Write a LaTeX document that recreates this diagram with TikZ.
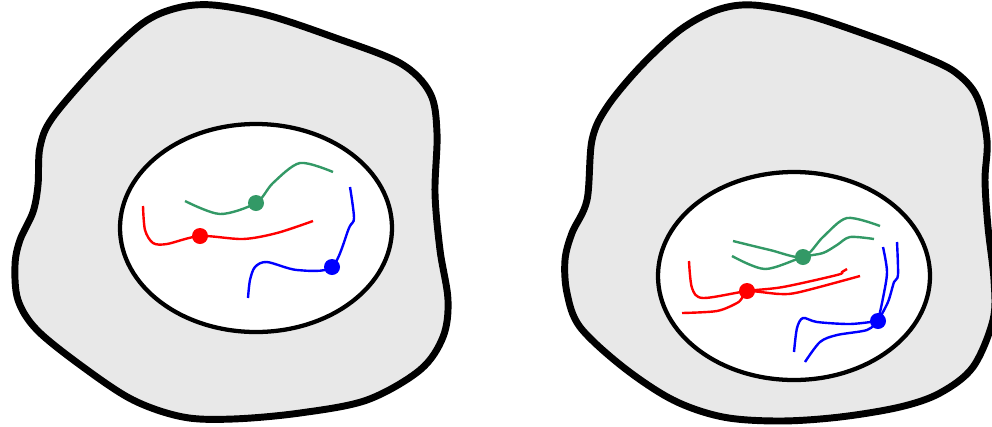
\documentclass[tikz,border=0pt]{standalone}
\definecolor{cellgray}{RGB}{232,232,232}
\definecolor{strandgreen}{RGB}{51,153,102}

\begin{document}
\begin{tikzpicture}[x=0.75pt,y=-0.75pt,
    cell/.style={line width=5.2pt, fill=cellgray, line join=round},
    nucleus/.style={line width=3.2pt, fill=white},
    strand/.style={line width=1.8pt},
    spot/.style={circle, inner sep=0pt, minimum size=12pt}]
    \useasboundingbox (0,0) rectangle (992,426);
    \clip (0,0) rectangle (992,426);

    % Left cell
    \draw[cell] plot[smooth cycle, tension=0.55] coordinates {(213,5) (267,15) (333,37) (400,63) (430,93) (437,133) (435,193) (440,250) (448,300) (443,337) (420,370) (367,400) (300,413) (233,419) (183,417) (133,400) (83,367) (37,330) (18,300) (15,265) (20,240) (33,212) (38,185) (40,147) (53,117) (100,63) (143,23) (177,8)};
    \draw[nucleus] (256,228) ellipse [x radius=136, y radius=104];

    % Spots (left)
    \node[spot, fill=strandgreen] (gL) at (256,203) {};
    \node[spot, fill=red] (rL) at (200,236) {};
    \node[spot, fill=blue] (bL) at (332,267) {};

    % Strands (left)
    \draw[strand, strandgreen] plot[smooth, tension=0.5] coordinates {(185,201) (220,214) (gL.center) (273,183) (300,163) (333,172)};
    \draw[strand, red] plot[smooth, tension=0.5] coordinates {(143,206) (145,230) (153,243) (167,244) (rL.center) (243,239) (277,233) (313,221)};
    \draw[strand, blue] plot[smooth, tension=0.5] coordinates {(350,187) (354,218) (349,228) (bL.center) (297,270) (267,262) (255,267) (250,280) (248,298)};

    % Right cell
    \draw[cell] plot[smooth cycle, tension=0.55] coordinates {(753,5) (807,15) (873,37) (920,55) (955,72) (977,97) (987,140) (985,180) (988,227) (994,280) (993,320) (973,367) (940,393) (900,407) (840,417) (780,421) (723,417) (673,400) (623,367) (580,327) (567,293) (565,260) (572,233) (587,200) (592,140) (607,107) (640,67) (680,30) (717,10)};
    \draw[nucleus] (794,276) ellipse [x radius=136, y radius=104];

    % Spots (right)
    \node[spot, fill=strandgreen] (gR) at (803,257) {};
    \node[spot, fill=red] (rR) at (747,291) {};
    \node[spot, fill=blue] (bR) at (878,321) {};

    % Strands (right)
    \draw[strand, strandgreen] plot[smooth, tension=0.5] coordinates {(733,241) (770,250) (gR.center) (823,237) (847,218) (880,226)};
    \draw[strand, strandgreen] plot[smooth, tension=0.5] coordinates {(732,256) (765,269) (gR.center) (823,253) (837,245) (850,237) (874,239)};
    \draw[strand, red] plot[smooth, tension=0.5] coordinates {(689,261) (692,288) (703,298) (rR.center) (783,287) (837,275) (842,272) (847,269)};
    \draw[strand, red] plot[smooth, tension=0.5] coordinates {(682,313) (717,311) (737,303) (742,298) (rR.center) (780,294) (800,292) (860,276)};
    \draw[strand, blue] plot[smooth, tension=0.5] coordinates {(883,247) (887,272) (883,298) (bR.center)};
    \draw[strand, blue] plot[smooth, tension=0.5] coordinates {(897,242) (898,275) (894,282) (888,302) (bR.center)};
    \draw[strand, blue] plot[smooth, tension=0.5] coordinates {(bR.center) (850,324) (817,322) (803,318) (797,328) (794,352)};
    \draw[strand, blue] plot[smooth, tension=0.5] coordinates {(bR.center) (867,330) (837,335) (820,342) (805,362)};
\end{tikzpicture}
\end{document}
